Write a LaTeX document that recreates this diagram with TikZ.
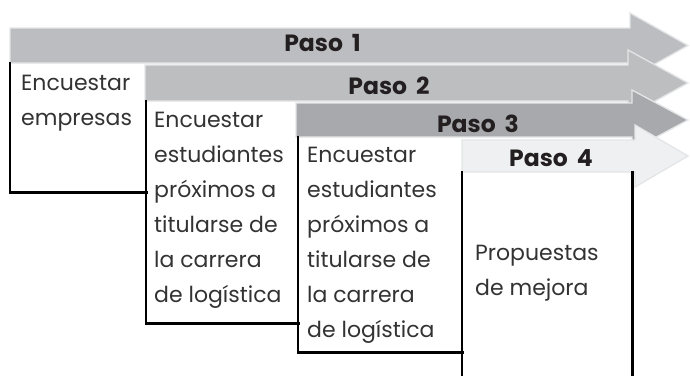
\documentclass[tikz,border=0pt]{standalone}
\usepackage{fontspec}
\setmainfont{Poppins}
\definecolor{aone}{HTML}{BCBDC0}
\definecolor{atwo}{HTML}{BDBEC0}
\definecolor{athree}{HTML}{A8A9AC}
\definecolor{afour}{HTML}{EFF0F1}
\definecolor{aedge}{HTML}{E4E5E6}
\definecolor{txt}{HTML}{333333}
\definecolor{pasotxt}{HTML}{231F20}
\newcommand{\pgap}{\hspace{0.38em}}
\begin{document}
\begin{tikzpicture}[x=1pt,y=-1pt,
  arr/.style={draw=aedge, line width=1.3pt, line join=miter},
  bord/.style={draw=black, line width=2.3pt, line cap=rect},
  boxnode/.style={rectangle, inner sep=0pt, anchor=north west},
  body/.style={anchor=north west, align=left, inner sep=0pt, text=txt,
    font=\fontsize{22}{35}\selectfont},
  paso/.style={inner sep=0pt, text=pasotxt, font=\bfseries\fontsize{23.5}{26}\selectfont}]
\useasboundingbox[fill=white] (0,0) rectangle (690,375);

% Step 1
\draw[arr, fill=aone] (10,28) -- (630,28) -- (630,13) -- (688,45.5) -- (630,78) -- (630,63) -- (10,63) -- cycle;
\node[paso] (p1) at (322.5,43.5) {Paso\pgap1};
\node[boxnode, minimum width=136pt, minimum height=129pt] (b1) at (10,63) {};

% Step 2
\draw[arr, fill=atwo] (145,65) -- (628,65) -- (628,50) -- (688,83) -- (628,116) -- (628,101) -- (145,101) -- cycle;
\node[paso] (p2) at (389,86) {Paso\pgap2};
\node[boxnode, minimum width=152pt, minimum height=222pt] (b2) at (146,101) {};

% Step 3
\draw[arr, fill=athree] (296,103) -- (632,103) -- (632,90) -- (688,120) -- (632,150) -- (632,137) -- (296,137) -- cycle;
\node[paso] (p3) at (478,123.5) {Paso\pgap3};
\node[boxnode, minimum width=164pt, minimum height=215pt] (b3) at (298,137) {};

% Step 4
\draw[arr, fill=afour] (462,140) -- (635,140) -- (635,125) -- (688,156) -- (635,187) -- (635,172) -- (462,172) -- cycle;
\node[paso] (p4) at (551,158.5) {Paso\pgap4};
\node[boxnode, minimum width=170pt, minimum height=203pt] (b4) at (462,172) {};

% box borders
\draw[bord] (b1.north west) -- (b1.south west) -- (b1.south east);
\draw[bord] (b2.north west) -- (b2.south west) -- (b2.south east);
\draw[bord] (b3.north west) -- (b3.south west) -- (b3.south east);
\draw[bord] (b4.north west) -- (b4.south west);
\draw[bord] (b4.north east) -- (b4.south east);

% texts
\node[body] (t1) at (21,75) {Encuestar\\empresas};
\node[body] (t2) at (154,112) {Encuestar\\estudiantes\\próximos a\\titularse de\\la carrera\\de logística};
\node[body] (t3) at (307,147) {Encuestar\\estudiantes\\próximos a\\titularse de\\la carrera\\de logística};
\node[body] (t4) at (475,245) {Propuestas\\de mejora};
\end{tikzpicture}
\end{document}
